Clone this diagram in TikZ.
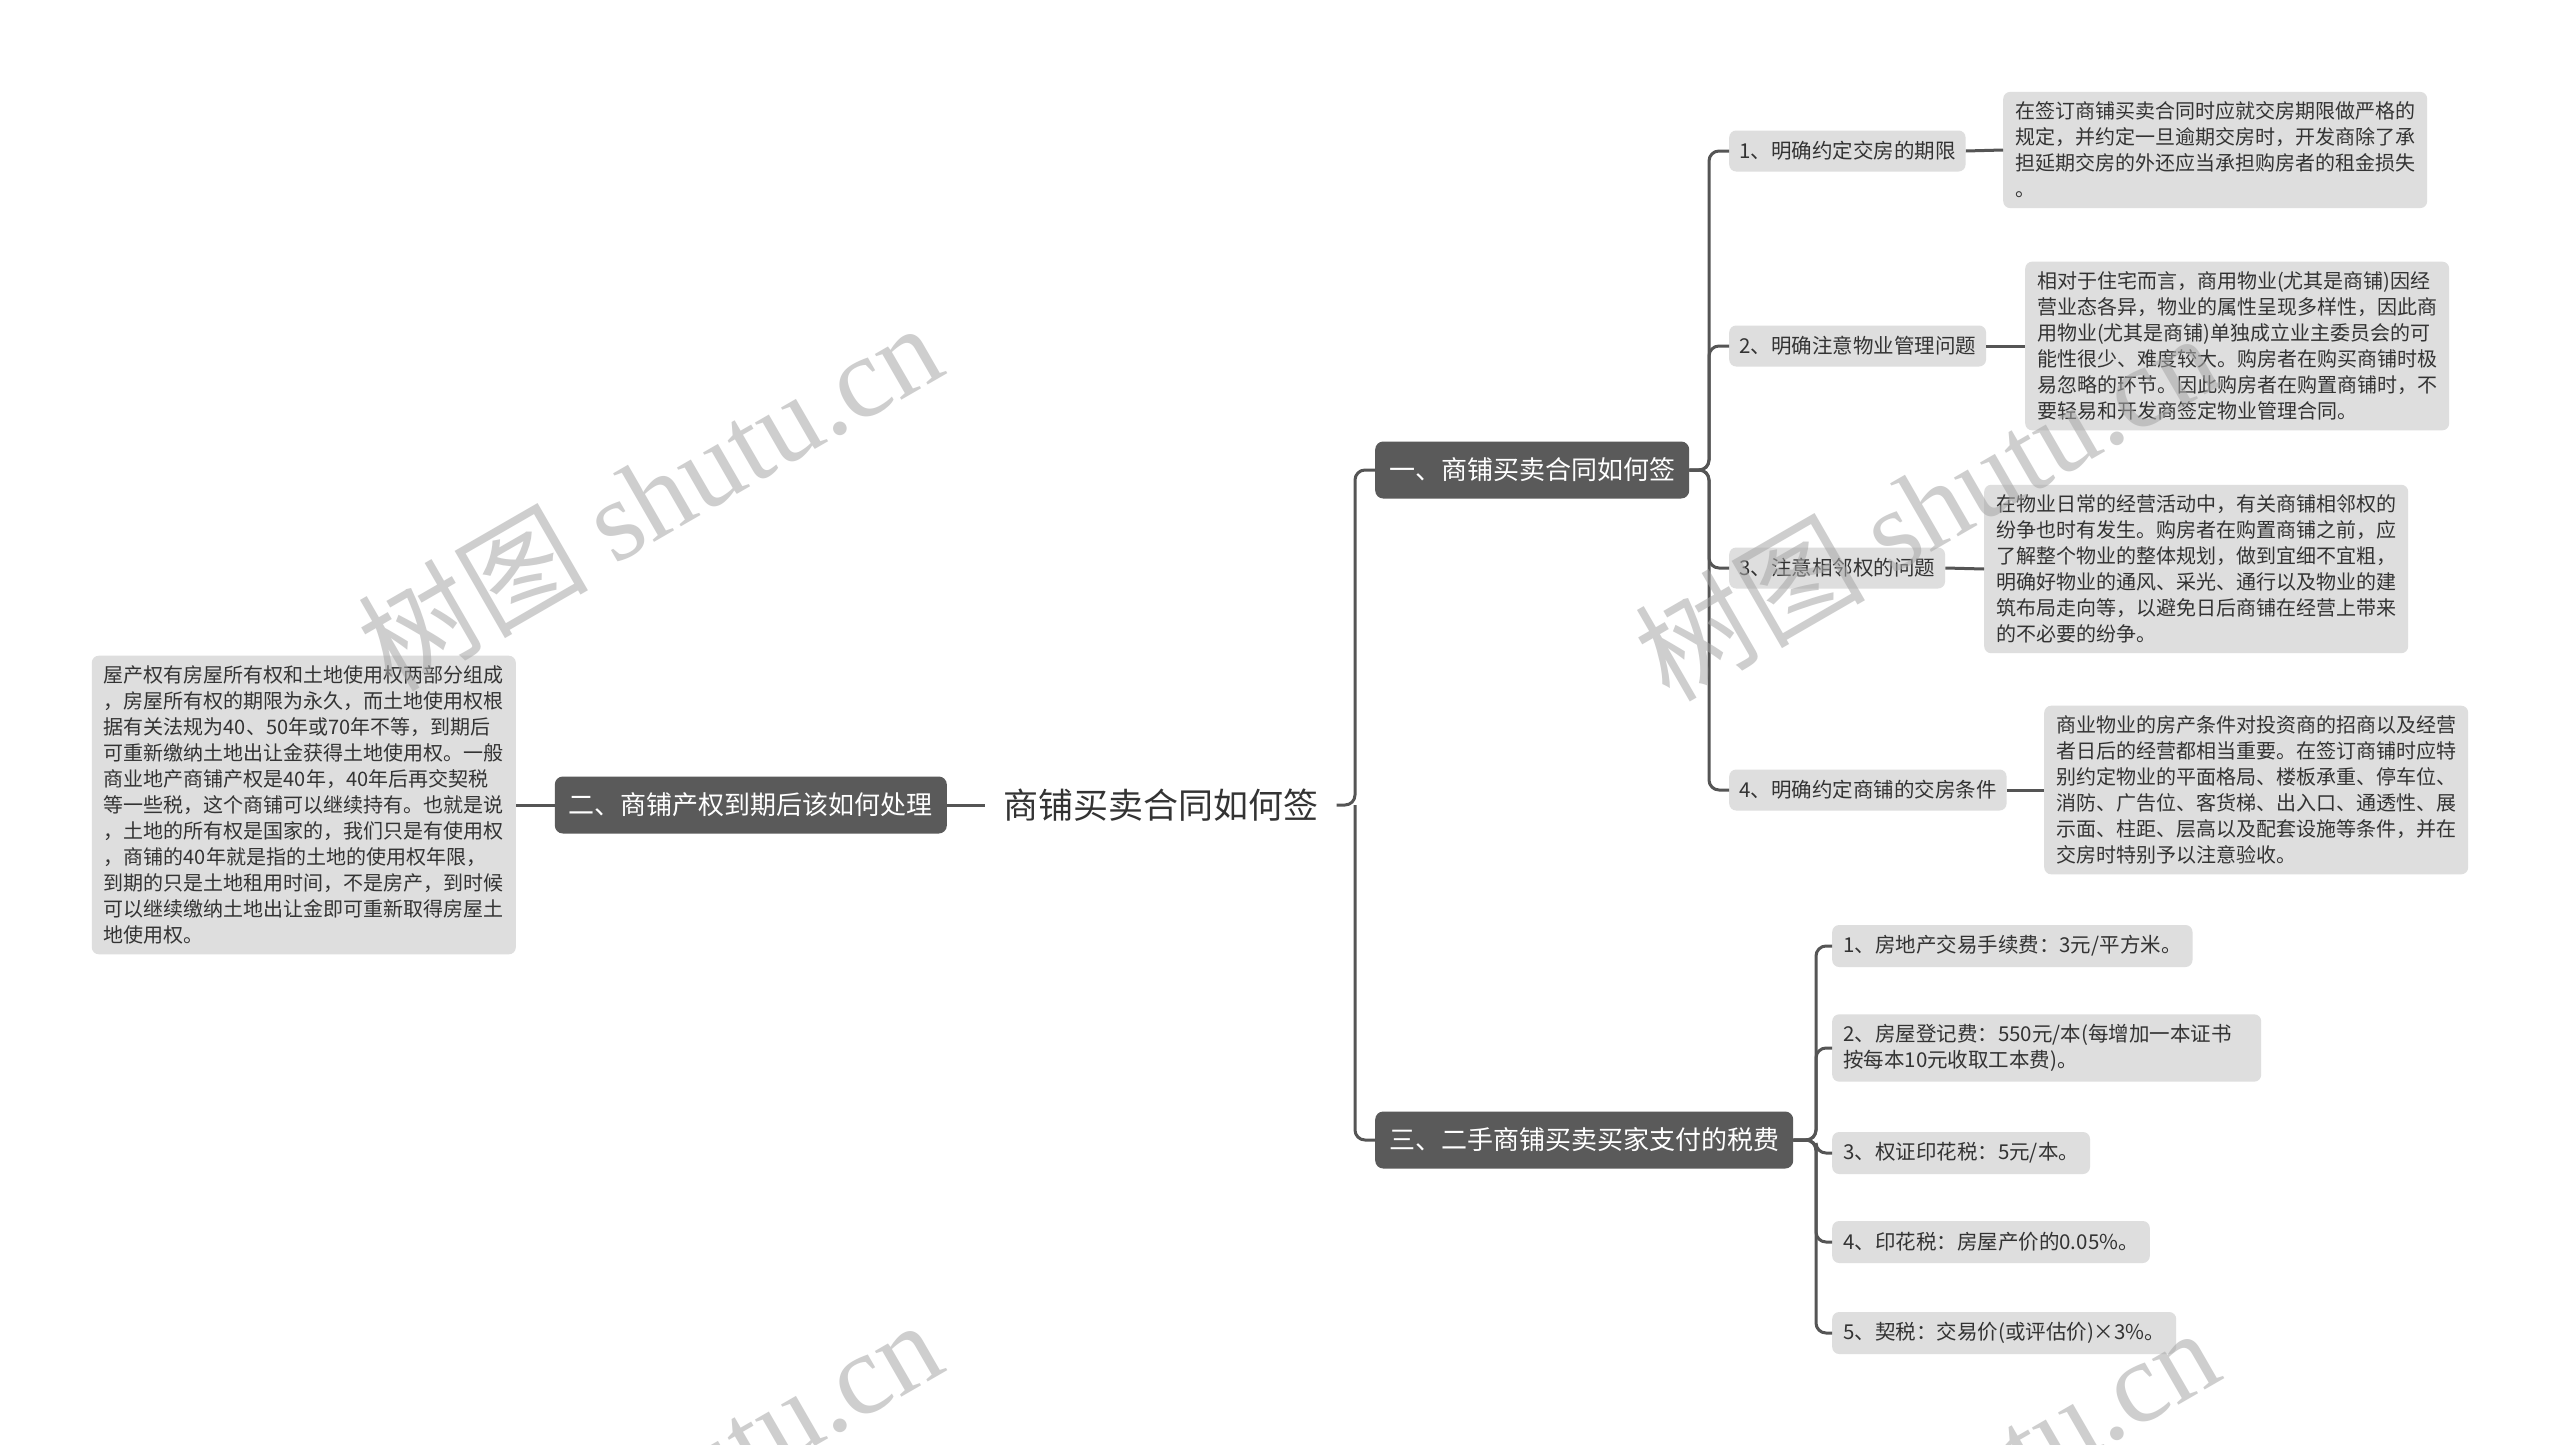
\documentclass[tikz,border=0pt]{standalone}
\usepackage{fontspec}
\setmainfont{Noto Sans CJK SC}
\newfontfamily\cjk{Noto Sans CJK SC}
\newfontfamily\wmserif{Liberation Serif}
\definecolor{darkbox}{HTML}{5A5A5A}
\definecolor{lightbox}{HTML}{DEDEDE}
\definecolor{linec}{HTML}{555555}
\definecolor{txt}{HTML}{333333}
\tikzset{
  rootnode/.style={text=txt, inner xsep=18pt, inner ysep=8pt, font={\fontsize{35}{42}\selectfont}},
  branchbox/.style={fill=darkbox, text=white, rounded corners=8pt, inner xsep=14pt, inner ysep=0pt, minimum height=57pt, font={\fontsize{26}{32}\selectfont}},
  leafbox/.style={fill=lightbox, text=txt, rounded corners=7pt, inner xsep=10pt, inner ysep=0pt, minimum height=41pt, font={\fontsize{20.5}{26}\selectfont}},
  detailbox/.style={fill=lightbox, text=txt, rounded corners=7pt, inner xsep=12pt, inner ysep=10pt, align=left, font={\fontsize{20}{26}\selectfont}},
  taxbox/.style={fill=lightbox, text=txt, rounded corners=7pt, inner xsep=11pt, inner ysep=10pt, minimum height=42pt, align=left, font={\fontsize{20.5}{26}\selectfont}},
  conn/.style={draw=linec, line width=3pt, rounded corners=10pt},
  wm/.style={text=black!35, opacity=0.55, rotate=30, font={\fontsize{115}{120}\selectfont}}
}
\begin{document}
\begin{tikzpicture}[x=1pt, y=-1pt]
\useasboundingbox[fill=white] (0,0) rectangle (2560,1445);

% root and main branches
\node[rootnode] (root) at (1161,805) {商铺买卖合同如何签};
\node[branchbox, anchor=east] (b2) at (947,805) {二、商铺产权到期后该如何处理};
\node[detailbox, anchor=east] (ld) at (516,805) {屋产权有房屋所有权和土地使用权两部分组成\\，房屋所有权的期限为永久，而土地使用权根\\据有关法规为40、50年或70年不等，到期后\\可重新缴纳土地出让金获得土地使用权。一般\\商业地产商铺产权是40年，40年后再交契税\\等一些税，这个商铺可以继续持有。也就是说\\，土地的所有权是国家的，我们只是有使用权\\，商铺的40年就是指的土地的使用权年限，\\到期的只是土地租用时间，不是房产，到时候\\可以继续缴纳土地出让金即可重新取得房屋土\\地使用权。};
\node[branchbox, anchor=west] (b1) at (1375,470) {一、商铺买卖合同如何签};
\node[branchbox, anchor=west] (b3) at (1375,1140) {三、二手商铺买卖买家支付的税费};

% branch 1 children
\node[leafbox, anchor=west] (c1) at (1729,151) {1、明确约定交房的期限};
\node[leafbox, anchor=west] (c2) at (1729,346) {2、明确注意物业管理问题};
\node[leafbox, anchor=west] (c3) at (1729,568) {3、注意相邻权的问题};
\node[leafbox, anchor=west] (c4) at (1729,790) {4、明确约定商铺的交房条件};

\node[detailbox, anchor=west] (d1) at (2003,150) {在签订商铺买卖合同时应就交房期限做严格的\\规定，并约定一旦逾期交房时，开发商除了承\\担延期交房的外还应当承担购房者的租金损失\\。};
\node[detailbox, anchor=west] (d2) at (2025,346) {相对于住宅而言，商用物业(尤其是商铺)因经\\营业态各异，物业的属性呈现多样性，因此商\\用物业(尤其是商铺)单独成立业主委员会的可\\能性很少、难度较大。购房者在购买商铺时极\\易忽略的环节。因此购房者在购置商铺时，不\\要轻易和开发商签定物业管理合同。};
\node[detailbox, anchor=west] (d3) at (1984,569) {在物业日常的经营活动中，有关商铺相邻权的\\纷争也时有发生。购房者在购置商铺之前，应\\了解整个物业的整体规划，做到宜细不宜粗，\\明确好物业的通风、采光、通行以及物业的建\\筑布局走向等，以避免日后商铺在经营上带来\\的不必要的纷争。};
\node[detailbox, anchor=west] (d4) at (2044,790) {商业物业的房产条件对投资商的招商以及经营\\者日后的经营都相当重要。在签订商铺时应特\\别约定物业的平面格局、楼板承重、停车位、\\消防、广告位、客货梯、出入口、通透性、展\\示面、柱距、层高以及配套设施等条件，并在\\交房时特别予以注意验收。};

% branch 3 children
\node[taxbox, anchor=west] (t1) at (1832,946) {1、房地产交易手续费：3元/平方米。};
\node[taxbox, anchor=west, text width=407pt] (t2) at (1832,1048) {2、房屋登记费：550元/本(每增加一本证书\\按每本10元收取工本费)。};
\node[taxbox, anchor=west] (t3) at (1832,1153) {3、权证印花税：5元/本。};
\node[taxbox, anchor=west] (t4) at (1832,1242) {4、印花税：房屋产价的0.05\%。};
\node[taxbox, anchor=west] (t5) at (1832,1333) {5、契税：交易价(或评估价)×3\%。};

% spine coordinates
\coordinate (tr) at (1355,805);
\coordinate (s1) at (1709,470);
\coordinate (s3) at (1816,1140);

% connectors
\draw[conn] (ld.east) -- (b2.west);
\draw[conn] (b2.east) -- (root.west);
\draw[conn] (root.east) -- (tr) |- (b1.west);
\draw[conn] (tr) |- (b3.west);

\foreach \c in {c1,c2,c3,c4} { \draw[conn] (b1.east) -- (s1) |- (\c.west); }
\draw[conn] (c1.east) -- (d1.west);
\draw[conn] (c2.east) -- (d2.west);
\draw[conn] (c3.east) -- (d3.west);
\draw[conn] (c4.east) -- (d4.west);

\foreach \t in {t1,t2,t3,t4,t5} { \draw[conn] (b3.east) -- (s3) |- (\t.west); }

% watermarks
\node[wm] (w1) at (649,495) {\cjk 树图 {\wmserif shutu.cn}};
\node[wm] (w2) at (1926,505) {\cjk 树图 {\wmserif shutu.cn}};
\node[wm] (w3) at (649,1492) {\cjk 树图 {\wmserif shutu.cn}};
\node[wm] (w4) at (1926,1500) {\cjk 树图 {\wmserif shutu.cn}};
\end{tikzpicture}
\end{document}
